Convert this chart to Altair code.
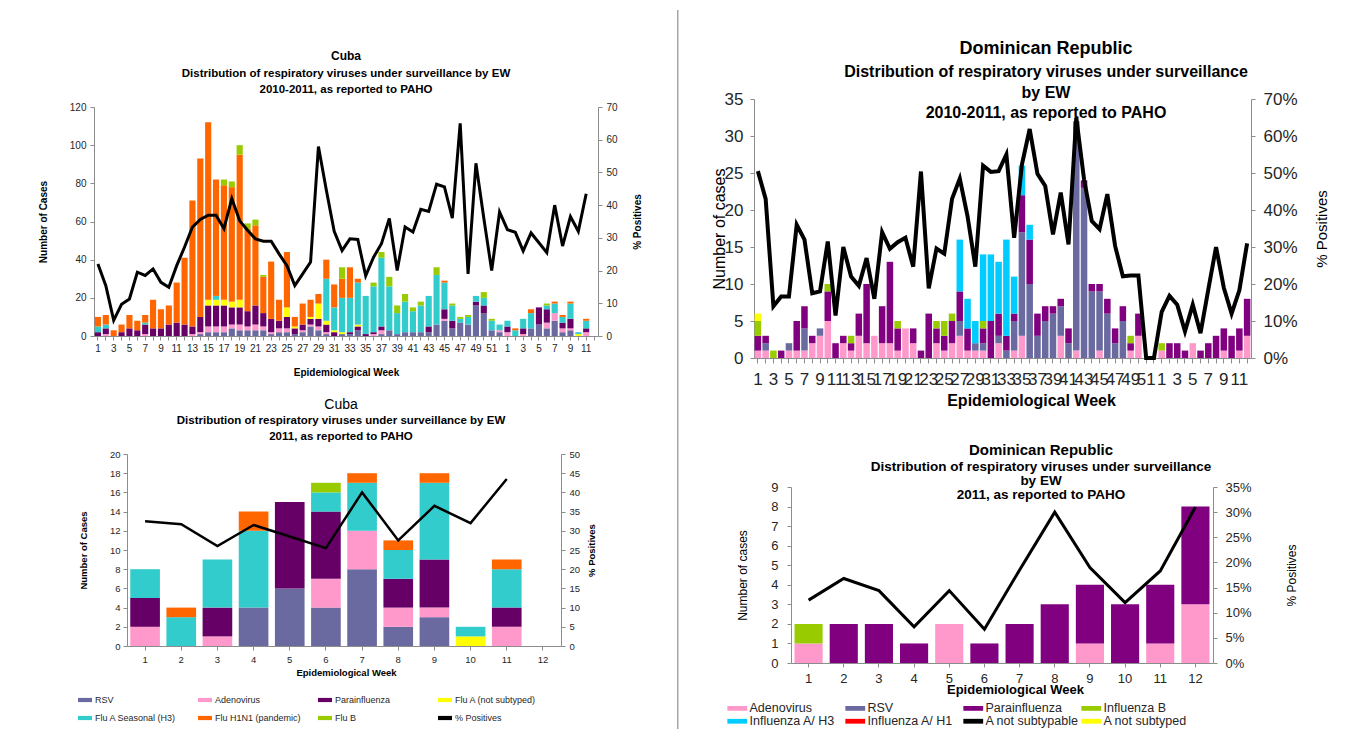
import altair as alt
import pandas as pd

FONT = "Liberation Sans"

# ---------------- categories ----------------
weeks_2010 = list(range(1, 53))
weeks_2011 = list(range(1, 13))

cuba_series = ["RSV", "Adenovirus", "Parainfluenza", "Flu A (not subtyped)",
               "Flu A Seasonal (H3)", "Flu H1N1 (pandemic)", "Flu B"]
cuba_colors = ["#6A6AA0", "#FF99CC", "#660066", "#FFFF00", "#33CCCC", "#FF6600", "#99CC00"]
cuba_line_name = "% Positives"
cuba_line_color = "#000000"

dr_series = ["Adenovirus", "RSV", "Parainfluenza", "Influenza  B",
             "Influenza A/ H3", "Influenza A/ H1", "A not subtypable", "A not subtyped"]
dr_colors = ["#FF99CC", "#6A6AA0", "#800080", "#99CC00", "#00CCFF", "#FF0000", "#000000", "#FFFF00"]

# ---------------- Cuba, EW 1-52 2010 ----------------
cuba10_rsv = [0,0,0,0,0,0,0,0,0,0, 0,0,0,1,2,2,2,4,3,3, 3,3,1,2,2,1,2,5,3,1, 0,1,1,3,0,0,1,3,1,2, 2,2,2,6,8,4,7,6,16,12, 3,2]
cuba10_adeno = [0,1,0,0,0,0,1,0,0,0, 0,0,1,1,3,3,3,2,3,2, 3,2,1,2,2,0,1,1,2,1, 0,0,0,0,0,1,2,0,0,0, 0,0,0,0,1,0,0,0,0,0, 0,1]
cuba10_para = [2,3,0,2,4,3,5,4,4,6, 7,6,4,8,11,11,11,9,9,8, 10,7,7,4,6,3,3,3,4,4, 2,0,1,2,1,1,2,0,0,0, 0,0,3,0,5,4,0,0,2,4, 0,0]
cuba10_fluA = [0,0,0,0,0,0,0,0,0,0, 0,0,0,0,3,3,3,3,4,0, 0,0,0,0,5,1,0,1,8,2, 1,1,0,1,0,0,0,0,0,0, 0,0,0,0,0,0,0,0,0,0, 0,0]
cuba10_h3 = [3,2,0,0,0,0,1,0,0,0, 0,0,0,0,0,2,0,0,0,0, 0,0,0,0,0,0,0,0,0,22, 12,18,18,22,20,24,36,23,11,16, 11,14,16,26,14,8,2,4,3,4, 5,3]
cuba10_h1n1 = [5,5,3,4,7,5,4,15,10,10, 21,35,66,83,93,61,60,60,76,43, 42,19,30,11,29,5,11,9,5,10, 12,10,16,2,0,0,0,0,0,0, 0,0,0,0,1,0,0,0,0,0, 0,0]
cuba10_flub = [0,0,0,0,0,0,0,0,0,0, 0,0,0,0,0,0,3,3,5,3, 3,1,0,0,0,0,0,0,0,0, 0,6,0,0,0,2,3,5,4,4, 2,2,0,4,0,1,1,1,0,3, 1,0]
cuba10_pct = [22, 15.4, 4.8, 9.7, 11.3, 19.5, 18.5, 20.5, 16.4, 14.9,
              21.5, 27.2, 33.3, 35.6, 36.9, 36.9, 32.8, 42, 35.2, 32.3,
              29.7, 29, 29, 25.1, 21.5, 15.4, 19, 22.6, 57.9, 44.6,
              32, 26.1, 29.7, 29.5, 18.4, 24.1, 28.2, 35.9, 20, 33.3,
              31.8, 38.7, 38.1, 46.4, 45.6, 36, 65, 19, 52.8, 36,
              20, 37.9]

# ---------------- Cuba, EW 1-12 2011 ----------------
cuba11_rsv = [0,0,0,4,6,4,8,2,3,0,0,0]
cuba11_adeno = [2,0,1,0,0,3,4,2,1,0,2,0]
cuba11_para = [3,0,3,0,9,7,0,3,5,0,2,0]
cuba11_fluA = [0,0,0,0,0,0,0,0,0,1,0,0]
cuba11_h3 = [3,3,5,8,0,2,5,3,8,1,4,0]
cuba11_h1n1 = [0,1,0,2,0,0,1,1,1,0,1,0]
cuba11_flub = [0,0,0,0,0,1,0,0,0,0,0,0]
cuba11_pct = [32.5, 31.7, 26, 31.5, 28.5, 25.5, 40, 27.5, 36.5, 32, 43.5, None]

# ---------------- Dominican Republic, EW 1-52 2010 ----------------
dr10_adeno = [1,1,0,0,1,1,1,2,3,5, 0,2,1,3,2,3,2,2,1,4, 2,0,0,2,1,2,3,1,1,1, 0,2,0,1,3,0,0,0,0,3, 0,1,0,0,1,0,0,0,1,3, 0,0]
dr10_rsv = [0,1,0,0,1,0,3,0,1,0, 0,0,0,0,0,0,0,0,0,0, 0,0,0,0,0,0,2,0,1,1, 0,1,1,4,14,10,3,5,6,4, 2,31,23,9,8,6,2,5,0,0, 0,0]
dr10_para = [2,1,0,1,0,4,3,1,0,4, 2,1,1,3,8,0,5,11,3,0, 2,1,6,2,2,3,4,3,0,2, 5,3,2,1,5,6,3,2,1,1, 2,0,1,1,1,2,2,2,1,3, 0,0]
dr10_flub = [2,0,1,0,0,0,0,0,0,1, 0,0,1,0,0,0,0,0,1,0, 0,0,0,1,2,1,0,0,0,1, 0,0,0,0,0,0,0,0,0,0, 0,0,0,0,0,0,0,0,1,0, 0,0]
dr10_h3 = [0,0,0,0,0,0,0,0,0,0, 0,0,0,0,0,0,0,0,0,0, 0,0,0,0,0,0,7,4,3,9, 9,7,13,5,4,2,0,0,0,0, 0,0,0,0,0,0,0,0,0,0, 0,0]
dr10_h1 = [0] * 52
dr10_nsa = [0] * 52
dr10_nst = [1] + [0] * 51
dr10_pct = [50.5, 43, 14, 16.6, 16.6, 36, 32, 17.5, 18, 31.5,
            11.5, 30, 22, 19.5, 27, 16, 34, 29.5, 31.3, 32.5,
            24.7, 50.4, 18.8, 29.6, 28.2, 43, 48.5, 38.3, 24.7, 52,
            50.3, 50.5, 55, 32.5, 52.3, 61.9, 49.8, 46.5, 33.4, 44.7,
            30.7, 65, 48.3, 37, 34.8, 44.3, 30.3, 22.1, 22.3, 22.3,
            0, 0]

# ---------------- Dominican Republic, EW 1-12 2011 ----------------
dr11_adeno = [1,0,0,0,2,0,0,0,1,0,1,3]
dr11_rsv = [0,0,0,0,0,0,0,0,0,0,0,0]
dr11_para = [0,2,2,1,0,1,2,3,3,3,3,5]
dr11_flub = [1,0,0,0,0,0,0,0,0,0,0,0]
dr11_h3 = [0] * 12
dr11_h1 = [0] * 12
dr11_nsa = [0] * 12
dr11_nst = [0] * 12
dr11_pct = [12.5, 16.8, 14.4, 7.2, 14.4, 6.7, 18.5, 30, 19, 12, 18.3, 31]


def stacked(names, arrays):
    rows = []
    for k, (name, arr) in enumerate(zip(names, arrays)):
        for i, v in enumerate(arr):
            rows.append({"idx": i + 1, "virus": name, "n": v, "ord": k})
    return pd.DataFrame(rows)


def line_df(values):
    return pd.DataFrame({"idx": list(range(1, len(values) + 1)), "pct": values})


cuba_all = stacked(cuba_series, [
    cuba10_rsv + cuba11_rsv, cuba10_adeno + cuba11_adeno, cuba10_para + cuba11_para,
    cuba10_fluA + cuba11_fluA, cuba10_h3 + cuba11_h3, cuba10_h1n1 + cuba11_h1n1,
    cuba10_flub + cuba11_flub])
cuba_all_pct = line_df(cuba10_pct + cuba11_pct)
cuba_11 = stacked(cuba_series, [cuba11_rsv, cuba11_adeno, cuba11_para, cuba11_fluA,
                                cuba11_h3, cuba11_h1n1, cuba11_flub])
cuba_11_pct = line_df(cuba11_pct)

dr_all = stacked(dr_series, [
    dr10_adeno + dr11_adeno, dr10_rsv + dr11_rsv, dr10_para + dr11_para,
    dr10_flub + dr11_flub, dr10_h3 + dr11_h3, dr10_h1 + dr11_h1,
    dr10_nsa + dr11_nsa, dr10_nst + dr11_nst])
dr_all_pct = line_df(dr10_pct + dr11_pct)
dr_11 = stacked(dr_series, [dr11_adeno, dr11_rsv, dr11_para, dr11_flub,
                            dr11_h3, dr11_h1, dr11_nsa, dr11_nst])
dr_11_pct = line_df(dr11_pct)

N_LONG = len(weeks_2010) + len(weeks_2011)
N_SHORT = len(weeks_2011)

long_label_expr = ("datum.value <= 52 ? (datum.value % 2 == 1 ? '' + datum.value : '') : "
                   "((datum.value - 52) % 2 == 1 ? '' + (datum.value - 52) : '')")

one = pd.DataFrame({"a": [0]})


def frame(w, h):
    # invisible box covering the whole panel cell (reference for the title position)
    return alt.Chart(one).mark_rect(opacity=0).encode(
        x=alt.value(0), x2=alt.value(w), y=alt.value(0), y2=alt.value(h))


def divider(h):
    return alt.Chart(one).mark_rule(color="#A6A6A6", strokeWidth=1.5).encode(
        x=alt.value(0.75), y=alt.value(0), y2=alt.value(h))


def panel(bars, pct, n_cat, names, colors, gw, gh, box, pad, xaxis, yaxis, raxis,
          ymax, pmax, lw, title, legend=None, extra=()):
    x0, x1, ytop, ybot = box
    xs = alt.Scale(domain=list(range(1, n_cat + 1)), range=[x0, x1],
                   paddingInner=pad, paddingOuter=pad / 2)
    b = alt.Chart(bars).mark_bar().encode(
        x=alt.X("idx:O", scale=xs, axis=xaxis),
        y=alt.Y("n:Q", stack="zero",
                scale=alt.Scale(domain=[0, ymax], range=[ybot, ytop], nice=False), axis=yaxis),
        color=alt.Color("virus:N", scale=alt.Scale(domain=names, range=colors), legend=legend),
        order=alt.Order("ord:Q", sort="ascending"),
    )
    l = alt.Chart(pct).mark_line(color="#000000", strokeWidth=lw).encode(
        x=alt.X("idx:O", scale=xs, axis=xaxis),
        y=alt.Y("pct:Q", scale=alt.Scale(domain=[0, pmax], range=[ybot, ytop], nice=False),
                axis=raxis),
    )
    return alt.layer(b, l, frame(gw, gh), *extra).resolve_scale(y="independent").properties(
        width=gw, height=gh, title=title)


def ax(**kw):
    base = dict(grid=False, labelFont=FONT, titleFont=FONT, domainColor="#8C8C8C",
                tickColor="#8C8C8C", labelColor="#262626", titleColor="#000000")
    base.update(kw)
    return alt.Axis(**base)


# ---------- Top-left: Cuba 2010-2011 ----------
TLW, TLH = 668, 422
TLB = (85, 589, 97, 326)
tl = panel(
    cuba_all, cuba_all_pct, N_LONG, cuba_series, cuba_colors, TLW, TLH, TLB, 0.22,
    ax(title="Epidemiological Week", labelExpr=long_label_expr, labelAngle=0, labelOverlap=False,
       labelFontSize=10, labelPadding=3, tickSize=4, titleFontSize=10, titleFontWeight="bold",
       offset=-(TLH - TLB[3]), titleX=337, titleY=36, titleBaseline="middle"),
    ax(values=list(range(0, 121, 20)), labelFontSize=10, labelPadding=4, tickSize=4,
       offset=-TLB[0],
       title="Number of Cases", titleFontSize=10, titleFontWeight="bold", titleAngle=270,
       titleX=-51, titleY=(TLB[2] + TLB[3]) / 2, titleBaseline="middle"),
    ax(orient="right", values=list(range(0, 71, 10)), labelFontSize=10, labelPadding=4, tickSize=4,
       offset=-(TLW - TLB[1]),
       title="% Positives", titleFontSize=10, titleFontWeight="bold", titleAngle=270,
       titleX=39, titleY=(TLB[2] + TLB[3]) / 2, titleBaseline="middle"),
    120, 70, 3,
    alt.TitleParams(text="Cuba",
                    subtitle=["Distribution of respiratory viruses under surveillance by EW",
                              "2010-2011, as reported to PAHO"],
                    anchor="middle", frame="group", font=FONT, fontSize=12, fontWeight="bold",
                    color="#000000", subtitleFont=FONT, subtitleFontSize=11.5,
                    subtitleFontWeight="bold", subtitleColor="#000000", subtitlePadding=5,
                    subtitleLineHeight=16, offset=-86, dx=3),
)

# ---------- Top-right: Dominican Republic 2010-2011 ----------
TRW, TRH = 662, 422
TRB = (77, 574, 89, 348)
tr = panel(
    dr_all, dr_all_pct, N_LONG, dr_series, dr_colors, TRW, TRH, TRB, 0.16,
    ax(title="Epidemiological Week", labelExpr=long_label_expr, labelAngle=0, labelOverlap=False,
       labelFontSize=17, labelPadding=8, tickSize=5, titleFontSize=16, titleFontWeight="bold",
       offset=-(TRH - TRB[3]), titleX=354, titleY=42, titleBaseline="middle"),
    ax(values=list(range(0, 36, 5)), labelFontSize=17, labelPadding=7, tickSize=4,
       offset=-TRB[0],
       title="Number of cases", titleFontSize=16, titleFontWeight="normal", titleAngle=270,
       titleX=-35, titleY=(TRB[2] + TRB[3]) / 2, titleBaseline="middle"),
    ax(orient="right", values=list(range(0, 71, 10)), labelExpr="datum.value + '%'",
       labelFontSize=17, labelPadding=8, tickSize=4, offset=-(TRW - TRB[1]),
       title="% Positives", titleFontSize=15, titleFontWeight="normal", titleAngle=270,
       titleX=70, titleY=(TRB[2] + TRB[3]) / 2, titleBaseline="middle"),
    35, 70, 4,
    alt.TitleParams(text="Dominican Republic",
                    subtitle=["Distribution of respiratory viruses under surveillance",
                              "by EW", "2010-2011, as reported to PAHO"],
                    anchor="middle", frame="group", font=FONT, fontSize=18, fontWeight="bold",
                    color="#000000", subtitleFont=FONT, subtitleFontSize=16,
                    subtitleFontWeight="bold", subtitleColor="#000000", subtitlePadding=6,
                    subtitleLineHeight=20.5, offset=-112, dx=38),
    extra=[divider(TRH)],
)

# ---------- Bottom-left: Cuba 2011 ----------
BLW, BLH = 668, 297
BLB = (118, 552, 22, 214)
bl_legend = alt.Legend(orient="none", legendX=69, legendY=261, direction="horizontal", columns=4,
                       title=None, symbolType="M-1,-0.3H1V0.3H-1Z", symbolSize=196,
                       symbolStrokeWidth=0, labelFont=FONT, labelFontSize=9, labelColor="#262626",
                       labelOffset=3, columnPadding=17, rowPadding=6, gridAlign="all", labelLimit=300)
bl = panel(
    cuba_11, cuba_11_pct, N_SHORT, cuba_series + [cuba_line_name], cuba_colors + [cuba_line_color],
    BLW, BLH, BLB, 0.18,
    ax(title="Epidemiological Week", labelAngle=0, labelFontSize=9.5, labelPadding=4, tickSize=4,
       titleFontSize=9.5, titleFontWeight="bold", offset=-(BLH - BLB[3]),
       titleX=337, titleY=26, titleBaseline="middle"),
    ax(values=list(range(0, 21, 2)), labelFontSize=9.5, labelPadding=3, tickSize=4,
       offset=-BLB[0],
       title="Number of Cases", titleFontSize=9.5, titleFontWeight="bold", titleAngle=270,
       titleX=-44, titleY=(BLB[2] + BLB[3]) / 2, titleBaseline="middle"),
    ax(orient="right", values=list(range(0, 51, 5)), labelFontSize=9.5, labelPadding=4, tickSize=4,
       offset=-(BLW - BLB[1]),
       title="% Positives", titleFontSize=9.5, titleFontWeight="bold", titleAngle=270,
       titleX=30, titleY=(BLB[2] + BLB[3]) / 2, titleBaseline="middle"),
    20, 50, 2.5,
    alt.TitleParams(text="Cuba",
                    subtitle=["Distribution of respiratory viruses under surveillance by EW",
                              "2011, as reported to PAHO"],
                    anchor="middle", frame="group", font=FONT, fontSize=14, fontWeight="normal",
                    color="#000000", subtitleFont=FONT, subtitleFontSize=11.5,
                    subtitleFontWeight="bold", subtitleColor="#000000", subtitlePadding=3,
                    subtitleLineHeight=16, offset=-10, dx=-2),
    legend=bl_legend,
)

# ---------- Bottom-right: Dominican Republic 2011 ----------
BRW, BRH = 662, 297
BRB = (114, 536, 55, 231)
br_legend = alt.Legend(orient="none", legendX=54, legendY=270, direction="horizontal", columns=4,
                       title=None, symbolType="M-1.65,-0.4H1.65V0.4H-1.65Z", symbolSize=144,
                       symbolStrokeWidth=0, labelFont=FONT, labelFontSize=12.5, labelColor="#262626",
                       labelOffset=6, columnPadding=2, rowPadding=-2, gridAlign="all", labelLimit=300)
br = panel(
    dr_11, dr_11_pct, N_SHORT, dr_series, dr_colors, BRW, BRH, BRB, 0.2,
    ax(title="Epidemiological Week", labelAngle=0, labelFontSize=13, labelPadding=5, tickSize=4,
       titleFontSize=13, titleFontWeight="bold", offset=-(BRH - BRB[3]),
       titleX=338, titleY=26, titleBaseline="middle"),
    ax(values=list(range(0, 10, 1)), labelFontSize=13, labelPadding=9, tickSize=4,
       offset=-BRB[0],
       title="Number of cases", titleFontSize=12, titleFontWeight="normal", titleAngle=270,
       titleX=-49, titleY=(BRB[2] + BRB[3]) / 2, titleBaseline="middle"),
    ax(orient="right", values=list(range(0, 36, 5)), labelExpr="datum.value + '%'",
       labelFontSize=13, labelPadding=8, tickSize=4, offset=-(BRW - BRB[1]),
       title="% Positives", titleFontSize=12, titleFontWeight="normal", titleAngle=270,
       titleX=78, titleY=(BRB[2] + BRB[3]) / 2, titleBaseline="middle"),
    9, 35, 3,
    alt.TitleParams(text="Dominican Republic",
                    subtitle=["Distribution of respiratory viruses under surveillance",
                              "by EW", "2011, as reported to PAHO"],
                    anchor="middle", frame="group", font=FONT, fontSize=15, fontWeight="bold",
                    color="#000000", subtitleFont=FONT, subtitleFontSize=13.5,
                    subtitleFontWeight="bold", subtitleColor="#000000", subtitlePadding=2,
                    subtitleLineHeight=14, offset=-70, dx=33),
    legend=br_legend,
    extra=[divider(BRH)],
)

chart = alt.concat(tl, tr, bl, br, columns=2, bounds="flush", spacing=0).resolve_scale(
    color="independent", x="independent", y="independent"
).resolve_legend(color="independent").properties(
    padding={"left": 0, "top": 0, "right": 0, "bottom": 0}, background="white"
).configure(font=FONT).configure_view(stroke="transparent")

chart.save("out.html", embed_options={"renderer": "svg", "actions": False})
